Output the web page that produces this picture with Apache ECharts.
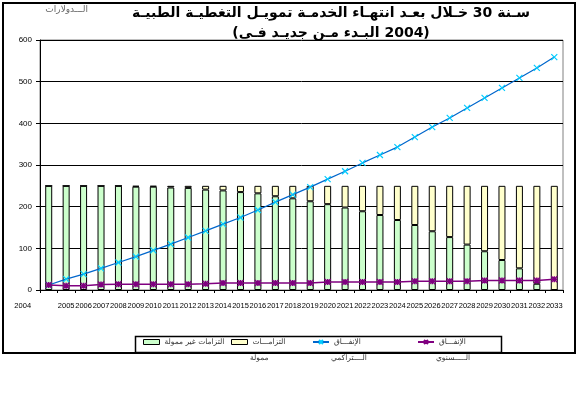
<!DOCTYPE html>
<html>
<head>
<meta charset="utf-8">
<script src="https://cdn.jsdelivr.net/npm/echarts@6/dist/echarts.min.js"></script>
<style>
html,body{margin:0;padding:0;background:#fff;}
#c{width:579px;height:393px;}
</style>
</head>
<body>
<div id="c"></div>
<script>
const years = ['2004','2005','2006','2007','2008','2009','2010','2011','2012','2013','2014','2015','2016','2017','2018','2019','2020','2021','2022','2023','2024','2025','2026','2027','2028','2029','2030','2031','2032','2033'];
const unfunded = [250,250,250,250,250,248,248,246,245,241,239,235,232,225,220,213,206,198,189,180,168,156,141,127,109,93,72,52,15,0];
const funded = [0,0,0,0,0,2,2,4,5,9,11,15,18,25,30,37,44,52,61,70,82,94,109,123,141,157,178,198,235,250];
const cumulative = [12,26,38,52,66,80,95,110,126,142,158,174,192,211,229,247,266,285,305,324,343,367,391,413,437,461,485,509,533,559];
const annual = [12,10,10,13,14,14,14,14,14,15,17,17,17,17,17,17,19,19,19,19,19,21,21,21,21,23,23,23,23,26];
const yTicks = [0,100,200,300,400,500,600];
const names = ['التزامات غير ممولة','التزامات ممولة','الإنفاق التراكمي','الإنفاق السنوي'];
const legendLine1 = ['التزامات غير ممولة','التزامـــات','الإنفـــاق','الإنفـــاق'];
const legendLine2 = ['','ممولة','الــــتراكمي','الـــــسنوي'];
const title1 = 'سـنة 30 خـلال بعـد انتهـاء الخدمـة تمويـل التغطيـة الطبيـة';
const title2Open = '(';
const title2Words = 'البـدء مـن جديـد فـى';
const title2Num = ' 2004)';
const unitLabel = 'الـــدولارات';

const chart = echarts.init(document.getElementById('c'), null, {renderer:'canvas'});
const xMark = 'path://M0,0L10,10M10,0L0,10';
const starMark = 'path://M0,0L10,10M10,0L0,10M5,0L5,10M0,5L10,5';
const legendX = [143, 231, 312, 417];
const legendText = {fontSize:7.5, color:'#333', fontFamily:'"DejaVu Sans"'};
function mkLegend(i, icon, style){
  return {
    left:legendX[i], top:338, padding:0, itemWidth:16, itemHeight:5, itemGap:0,
    textStyle:legendText, icon:icon,
    formatter:function(){ return legendLine1[i]; },
    data:[ style ? {name:names[i], itemStyle:style} : {name:names[i]} ]
  };
}
const tf = {fontFamily:'"DejaVu Sans"', fontWeight:'bold', fontSize:14, color:'#000'};
chart.setOption({
  animation:false,
  textStyle:{fontFamily:'Arial, "Liberation Sans", sans-serif'},
  graphic:[
    {type:'rect', shape:{x:3,y:3,width:572,height:350}, style:{fill:null, stroke:'#000', lineWidth:2}, z:-1},
    {type:'rect', shape:{x:135.5,y:336.5,width:366,height:16}, style:{fill:null, stroke:'#000', lineWidth:1.5}, z:10},
    {type:'text', x:331, y:6, style:{text:title1, textAlign:'center', font:'bold 14px "DejaVu Sans"', fill:'#000'}},
    {type:'text', x:331, y:26, style:{
      text:'{o|'+title2Open+'}{w|'+title2Words+'}{n|'+title2Num+'}', align:'center',
      rich:{o:tf, w:tf, n:tf}}},
    {type:'text', x:88, y:5, style:{text:unitLabel, textAlign:'right', font:'9px "DejaVu Sans"', fill:'#666'}},
    {type:'text', x:legendX[1]+19, y:354, style:{text:legendLine2[1], textAlign:'left', font:'7.5px "DejaVu Sans"', fill:'#333'}},
    {type:'text', x:legendX[2]+19, y:354, style:{text:legendLine2[2], textAlign:'left', font:'7.5px "DejaVu Sans"', fill:'#333'}},
    {type:'text', x:legendX[3]+19, y:354, style:{text:legendLine2[3], textAlign:'left', font:'7.5px "DejaVu Sans"', fill:'#333'}}
  ],
  grid:{left:40, right:16, top:40, bottom:103, show:true, borderColor:'#808080', borderWidth:1},
  legend:[
    mkLegend(0,'rect',{color:'#CCFFCC', borderColor:'#000', borderWidth:1}),
    mkLegend(1,'rect',{color:'#FFFFCC', borderColor:'#000', borderWidth:1}),
    mkLegend(2,null,null),
    mkLegend(3,null,null)
  ],
  xAxis:{
    type:'category', data:years, boundaryGap:true,
    axisLine:{lineStyle:{color:'#000', width:1}},
    axisTick:{show:true, lineStyle:{color:'#000'}, length:3},
    axisLabel:{
      interval:0, fontSize:7.5, color:'#000', margin:12,
      formatter:function(v,i){ return i===0 ? '{a|'+v+'}' : v; },
      rich:{a:{fontSize:7.5, color:'#000', padding:[0,52,0,0]}}
    }
  },
  yAxis:{
    type:'value', min:yTicks[0], max:yTicks[yTicks.length-1], interval:100,
    axisLine:{show:true, lineStyle:{color:'#000'}},
    axisTick:{show:true, inside:false, length:4, lineStyle:{color:'#000'}},
    axisLabel:{fontSize:8, color:'#000', margin:8},
    splitLine:{show:true, lineStyle:{color:'#000', width:1}}
  },
  series:[
    {name:names[0], type:'bar', stack:'s', data:unfunded, barWidth:7,
     itemStyle:{color:'#CCFFCC', borderColor:'#000', borderWidth:1}},
    {name:names[1], type:'bar', stack:'s', data:funded, barWidth:7,
     itemStyle:{color:'#FFFFCC', borderColor:'#000', borderWidth:1}},
    {name:names[2], type:'line', data:cumulative, symbol:xMark, symbolSize:6,
     lineStyle:{color:'#0066CC', width:1.2},
     itemStyle:{color:'#00CCFF', borderColor:'#00CCFF', borderWidth:1.2}, z:5},
    {name:names[3], type:'line', data:annual, symbol:starMark, symbolSize:6,
     lineStyle:{color:'#800080', width:1.5},
     itemStyle:{color:'#800080', borderColor:'#800080', borderWidth:1.5}, z:6}
  ]
});
</script>
</body>
</html>
